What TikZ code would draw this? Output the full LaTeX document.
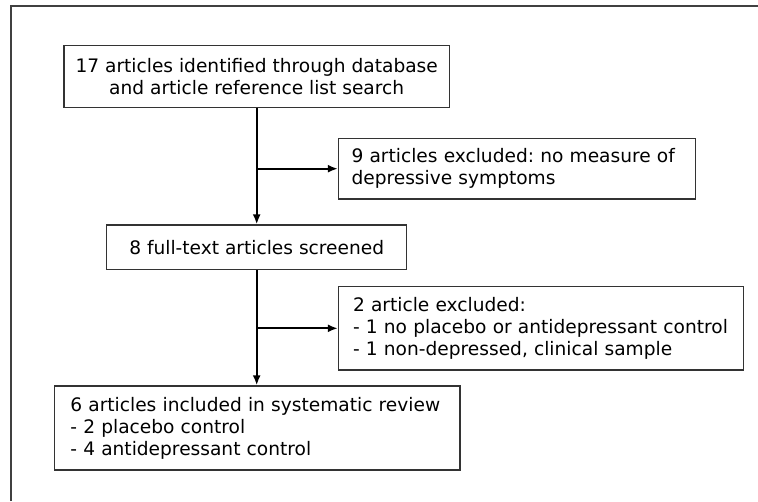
\documentclass[tikz,border=0pt]{standalone}
\usepackage{fontspec}
\setmainfont{DejaVu Sans}
\usetikzlibrary{arrows.meta}
\frenchspacing
\begin{document}
\begin{tikzpicture}[x=1pt,y=-1pt,
  box/.style={draw=black!80, line width=1.3pt, inner ysep=0pt, font=\fontsize{18.6}{22}\selectfont},
  cbox/.style={box, align=center, inner xsep=0pt},
  lbox/.style={box, align=left},
  arr/.style={line width=2.3pt, -{Latex[length=10pt,width=8pt]}},
  frame/.style={draw=black!75, line width=2pt}]
\useasboundingbox (0,0) rectangle (758,501);
\draw[frame] (11,501) coordinate (fl) -- (11,6) coordinate (fc) -- (758,6) coordinate (fr);
\node[cbox, minimum width=385.3pt, minimum height=62pt] (b1) at (256.7,76.7)
  {17 articles identified through database\\and article reference list search};
\node[lbox, minimum height=60.7pt, inner xsep=13pt, text width=331.2pt] (b2) at (517.1,168.7)
  {9 articles excluded: no measure of\\depressive symptoms};
\node[cbox, minimum width=300pt, minimum height=44.3pt] (b3) at (256.7,247.2)
  {8 full-text articles screened};
\node[lbox, minimum height=83.3pt, inner xsep=14.5pt, text width=375.8pt] (b4) at (540.9,328.3)
  {2 article excluded:\\- 1 no placebo or antidepressant control\\- 1 non-depressed, clinical sample};
\node[lbox, minimum height=84pt, inner xsep=16pt, text width=373.7pt] (b5) at (257.2,428)
  {6 articles included in systematic review\\- 2 placebo control\\- 4 antidepressant control};
\draw[arr] (b1.south) -- (b3.north);
\draw[arr] (b1.south |- b2.west) -- (b2.west);
\draw[arr] (b3.south) -- (b3.south |- b5.north);
\draw[arr] (b3.south |- b4.west) -- (b4.west);
\end{tikzpicture}
\end{document}
